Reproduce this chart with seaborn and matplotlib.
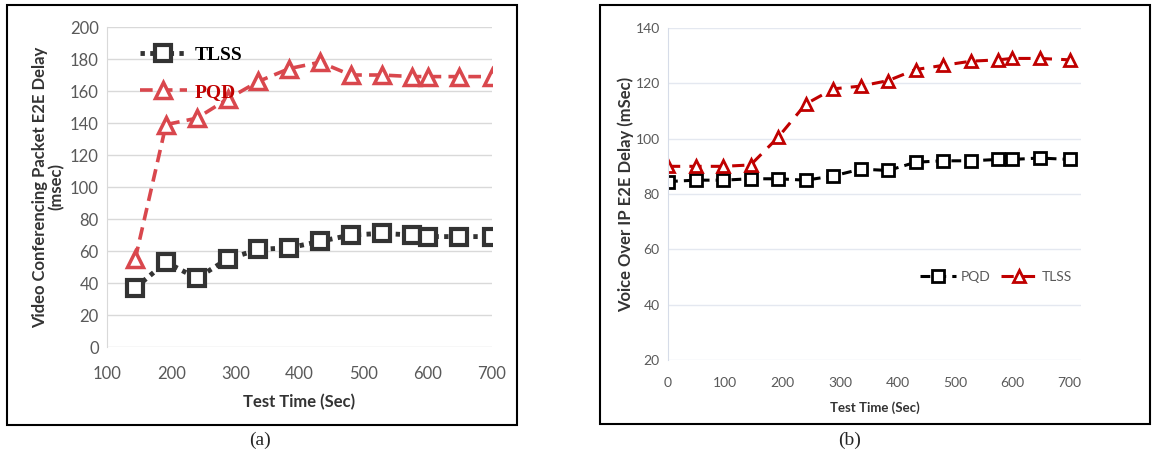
import matplotlib
matplotlib.use("Agg")
import matplotlib.pyplot as plt
import seaborn as sns
from matplotlib.patches import Rectangle

# Panel (a): video conferencing packet E2E delay
time_a = [144, 192, 240, 288, 336, 384, 432, 480, 528, 576, 600, 648, 700]
tlss_a = [37, 53, 43, 55, 61, 62, 66, 70, 71, 70, 69, 69, 69]
pqd_a = [55, 139, 143, 155, 166, 174, 178, 170, 170, 169, 169, 169, 169]

# Panel (b): voice over IP E2E delay
time_b = [0, 48, 96, 144, 192, 240, 288, 336, 384, 432, 480, 528, 576, 600, 648, 700]
pqd_b = [84.5, 85, 85, 85.5, 85.5, 85, 86.5, 89, 88.5, 91.5, 92, 92, 92.5, 92.5, 93, 92.5]
tlss_b = [90, 90, 90, 90.5, 100.5, 112.5, 118, 119, 121, 125, 126.5, 128, 128.5, 129, 129, 128.5]

sns.set_style("white")
plt.rcParams['font.family'] = ['Lato', 'DejaVu Sans']

fig = plt.figure(figsize=(11.56, 4.57), dpi=100)

# panel frames
fig.patches.append(Rectangle((7 / 1156, 1 - 425 / 457), 510 / 1156, 420 / 457,
                             transform=fig.transFigure, fill=False, lw=1.5, ec='black'))
fig.patches.append(Rectangle((600 / 1156, 1 - 424 / 457), 550 / 1156, 419 / 457,
                             transform=fig.transFigure, fill=False, lw=1.5, ec='black'))

grid_col = '#d9d9d9'
tick_col = '#595959'

# ---- (a)
ax1 = fig.add_axes([107 / 1156, 1 - 347 / 457, 385 / 1156, 320 / 457])
sns.lineplot(x=time_a, y=tlss_a, ax=ax1, color='#333333', linestyle=(0, (0.9, 1.1)),
             linewidth=3.5, marker='s', markersize=11, markerfacecolor='white',
             markeredgewidth=3, markeredgecolor='#333333', label='TLSS')
sns.lineplot(x=time_a, y=pqd_a, ax=ax1, color='#d9474d', linestyle=(0, (3.5, 2)),
             linewidth=2.6, marker='^', markersize=12, markerfacecolor='white',
             markeredgewidth=2.5, markeredgecolor='#d9474d', label='PQD')
ax1.set_xlim(100, 700)
ax1.set_ylim(0, 200)
ax1.set_xticks(range(100, 701, 100))
ax1.set_yticks(range(0, 201, 20))
ax1.grid(axis='y', color=grid_col, linewidth=1)
for s in ['top', 'right', 'bottom']:
    ax1.spines[s].set_visible(False)
ax1.spines['left'].set_color(grid_col)
ax1.tick_params(axis='both', colors=tick_col, labelsize=12, length=0, pad=6)
ax1.tick_params(axis='x', pad=14)
ax1.set_xlabel('Test Time (Sec)', fontsize=12, fontweight='bold', color='#333333', labelpad=8)
ax1.set_ylabel('Video Conferencing Packet E2E Delay\n(msec)', fontsize=12,
               fontweight='bold', color='#333333', linespacing=1.0)
ax1.yaxis.set_label_coords(-0.11, 0.5)
leg1 = ax1.legend(loc='upper left', bbox_to_anchor=(0.04, 0.995), frameon=False,
                  prop={'family': 'Liberation Serif', 'size': 14, 'weight': 'bold'},
                  handlelength=2.4, labelspacing=1.0, handletextpad=0.4)
leg1.get_texts()[0].set_color('black')
leg1.get_texts()[1].set_color('#c00000')

# ---- (b)
ax2 = fig.add_axes([668 / 1156, 1 - 360 / 457, 413 / 1156, 332 / 457])
sns.lineplot(x=time_b, y=pqd_b, ax=ax2, color='black', linestyle=(0, (3.2, 2)),
             linewidth=2.2, marker='s', markersize=8, markerfacecolor='white',
             markeredgewidth=2, markeredgecolor='black', label='PQD')
sns.lineplot(x=time_b, y=tlss_b, ax=ax2, color='#c00000', linestyle=(0, (4, 3)),
             linewidth=2.2, marker='^', markersize=9, markerfacecolor='white',
             markeredgewidth=2, markeredgecolor='#c00000', label='TLSS')
ax2.set_xlim(0, 720)
ax2.set_ylim(20, 140)
ax2.set_xticks(range(0, 701, 100))
ax2.set_yticks(range(20, 141, 20))
ax2.grid(axis='y', color='#e4e8f0', linewidth=1)
for s in ['top', 'right', 'bottom']:
    ax2.spines[s].set_visible(False)
ax2.spines['left'].set_color('#d6dce8')
ax2.tick_params(axis='both', colors=tick_col, labelsize=10, length=0, pad=6)
ax2.tick_params(axis='x', pad=12)
ax2.set_xlabel('Test Time (Sec)', fontsize=9.5, fontweight='bold', color='#333333', labelpad=9)
ax2.set_ylabel('Voice Over IP E2E Delay (mSec)', fontsize=12, fontweight='bold',
               color='#333333', labelpad=1)
leg2 = ax2.legend(loc='center left', bbox_to_anchor=(0.58, 0.25), frameon=False, ncol=2,
                  fontsize=10, handlelength=2.6, handletextpad=0.3, columnspacing=0.8)
for t in leg2.get_texts():
    t.set_color('#595959')

# captions
fig.text(260 / 1156, 1 - 440 / 457, '(a)', ha='center', va='center',
         family='Liberation Serif', fontsize=14)
fig.text(850 / 1156, 1 - 440 / 457, '(b)', ha='center', va='center',
         family='Liberation Serif', fontsize=14)

fig.savefig('out.png', dpi=100)
